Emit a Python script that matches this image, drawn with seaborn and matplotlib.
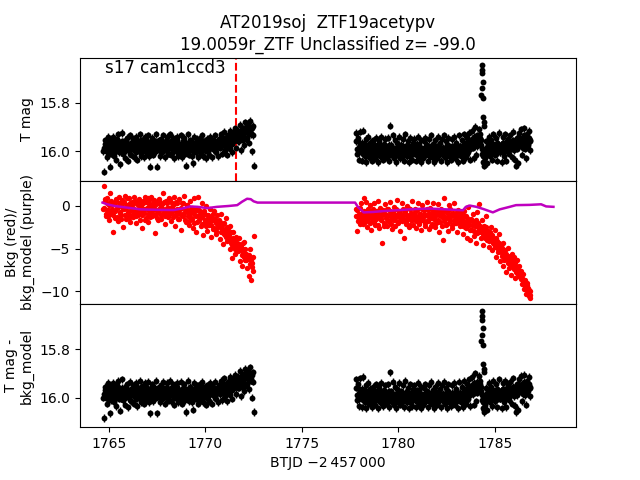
import numpy as np
import matplotlib
matplotlib.use("Agg")
import matplotlib.pyplot as plt
import seaborn as sns

# ---- light curve values (BTJD, mag, bkg) ----
# sector gap splits the orbit into two segments; each segment is stored as
# two interleaved cadence lists (a and b)
t_seg1 = [
    1764.70, 1764.75, 1764.80, 1764.85, 1764.90, 1764.95, 1765.00, 1765.05, 1765.10, 1765.15,
    1765.20, 1765.25, 1765.30, 1765.35, 1765.40, 1765.45, 1765.50, 1765.55, 1765.60, 1765.65,
    1765.70, 1765.75, 1765.80, 1765.85, 1765.90, 1765.95, 1766.00, 1766.05, 1766.10, 1766.15,
    1766.20, 1766.25, 1766.30, 1766.35, 1766.40, 1766.45, 1766.50, 1766.55, 1766.60, 1766.65,
    1766.70, 1766.75, 1766.80, 1766.85, 1766.90, 1766.95, 1767.00, 1767.05, 1767.10, 1767.15,
    1767.20, 1767.25, 1767.30, 1767.35, 1767.40, 1767.45, 1767.50, 1767.55, 1767.60, 1767.65,
    1767.70, 1767.75, 1767.80, 1767.85, 1767.90, 1767.95, 1768.00, 1768.05, 1768.10, 1768.15,
    1768.20, 1768.25, 1768.30, 1768.35, 1768.40, 1768.45, 1768.50, 1768.55, 1768.60, 1768.65,
    1768.70, 1768.75, 1768.80, 1768.85, 1768.90, 1768.95, 1769.00, 1769.05, 1769.10, 1769.15,
    1769.20, 1769.25, 1769.30, 1769.35, 1769.40, 1769.45, 1769.50, 1769.55, 1769.60, 1769.65,
    1769.70, 1769.75, 1769.80, 1769.85, 1769.90, 1769.95, 1770.00, 1770.05, 1770.10, 1770.15,
    1770.20, 1770.25, 1770.30, 1770.35, 1770.40, 1770.45, 1770.50, 1770.55, 1770.60, 1770.65,
    1770.70, 1770.75, 1770.80, 1770.85, 1770.90, 1770.95, 1771.00, 1771.05, 1771.10, 1771.15,
    1771.20, 1771.25, 1771.30, 1771.35, 1771.40, 1771.45, 1771.50, 1771.55, 1771.60, 1771.65,
    1771.70, 1771.75, 1771.80, 1771.85, 1771.90, 1771.95, 1772.00, 1772.05, 1772.10, 1772.15,
    1772.20, 1772.25, 1772.30, 1772.35, 1772.40, 1772.45, 1772.50,
]
tmag_seg1 = [
    16.000, 16.085, 15.955, 15.990, 16.025, 15.940, 15.975, 16.065, 16.010, 15.950,
    15.940, 16.020, 15.985, 16.035, 15.950, 15.930, 16.005, 16.055, 15.965, 15.990,
    15.925, 16.010, 15.960, 16.030, 15.975, 15.945, 16.040, 15.990, 15.935, 16.015,
    15.970, 15.950, 16.025, 15.985, 15.940, 16.035, 15.960, 16.000, 15.930, 16.020,
    15.955, 15.990, 16.025, 15.940, 15.975, 16.010, 15.935, 15.965, 16.020, 16.065,
    15.980, 15.945, 16.015, 15.960, 15.995, 15.930, 16.065, 15.970, 15.985, 16.020,
    15.950, 16.005, 15.935, 15.990, 16.025, 15.960, 15.940, 16.010, 15.975, 15.930,
    16.015, 15.965, 15.945, 16.030, 15.985, 15.950, 16.000, 15.940, 16.020, 15.970,
    15.990, 15.935, 16.025, 15.960, 15.945, 16.010, 16.060, 15.975, 15.930, 16.015,
    15.955, 15.985, 16.020, 16.050, 15.940, 15.970, 16.005, 15.950, 16.025, 15.965,
    15.945, 16.010, 15.980, 15.935, 16.020, 15.960, 15.995, 16.030, 15.950, 15.975,
    16.015, 15.940, 15.970, 16.025, 15.955, 15.990, 15.935, 16.005, 15.965, 16.020,
    15.950, 15.985, 15.930, 16.010, 15.960, 15.920, 15.995, 15.945, 16.015, 15.935,
    15.970, 15.915, 15.990, 15.940, 16.005, 15.925, 15.960, 15.905, 15.985, 15.935,
    15.915, 15.960, 15.890, 15.995, 15.935, 15.905, 15.975, 15.880, 15.950, 15.920,
    15.885, 15.965, 15.875, 15.930, 16.000, 15.895, 16.060,
]
bkg_seg1 = [
    -0.3, 2.3, 0.6, -1.2, 0.9, -0.5, -1.6, 1.5, 0.2, -0.9,
    -3.1, 0.4, -1.4, 0.8, -0.2, -1.8, 1.0, -0.7, 0.3, -1.1,
    0.7, -2.5, -0.4, 1.2, -1.5, 0.1, -0.9, 0.9, -1.9, -0.1,
    0.5, -1.3, 1.1, -0.6, -2.0, 0.3, -1.0, 0.8, -1.6, 0.0,
    -2.6, 0.6, -0.8, 1.0, -1.4, -0.3, 0.9, -1.9, 0.2, -0.7,
    1.1, -1.2, -0.1, 0.7, -3.2, -0.9, 0.4, -1.7, 0.8, -0.4,
    -1.5, 0.2, 1.5, -0.8, -2.1, 0.6, -0.2, -1.3, 0.9, -0.6,
    -1.8, 0.3, -0.5, 1.0, -1.1, -2.3, 0.5, -0.3, -1.5, 0.8,
    -0.9, -2.8, 0.4, -1.2, 1.2, -0.4, -1.9, 0.1, -0.7, -2.2,
    0.6, -1.4, -0.2, -2.6, 0.9, -1.0, -3.0, -0.5, 1.1, -1.7,
    -0.6, -2.4, 0.3, -1.3, -3.4, -0.8, -1.9, 0.0, -2.9, -1.1,
    -2.2, -0.3, -3.6, -1.4, -2.7, -0.6, -1.8, -3.3, -1.0, -2.5,
    -1.6, -3.9, -0.9, -2.8, -4.5, -2.0, -3.4, -1.4, -4.1, -2.6,
    -3.7, -5.0, -2.3, -4.4, -6.1, -3.1, -4.8, -5.6, -3.9, -4.6,
    -5.3, -3.8, -6.5, -4.6, -7.1, -5.0, -4.2, -6.3, -5.6, -7.3,
    -6.0, -8.2, -5.1, -8.7, -6.7, -7.6, -3.5,
]

t_seg1b = [
    1764.725, 1764.775, 1764.825, 1764.875, 1764.925, 1764.975, 1765.025, 1765.075, 1765.125, 1765.175,
    1765.225, 1765.275, 1765.325, 1765.375, 1765.425, 1765.475, 1765.525, 1765.575, 1765.625, 1765.675,
    1765.725, 1765.775, 1765.825, 1765.875, 1765.925, 1765.975, 1766.025, 1766.075, 1766.125, 1766.175,
    1766.225, 1766.275, 1766.325, 1766.375, 1766.425, 1766.475, 1766.525, 1766.575, 1766.625, 1766.675,
    1766.725, 1766.775, 1766.825, 1766.875, 1766.925, 1766.975, 1767.025, 1767.075, 1767.125, 1767.175,
    1767.225, 1767.275, 1767.325, 1767.375, 1767.425, 1767.475, 1767.525, 1767.575, 1767.625, 1767.675,
    1767.725, 1767.775, 1767.825, 1767.875, 1767.925, 1767.975, 1768.025, 1768.075, 1768.125, 1768.175,
    1768.225, 1768.275, 1768.325, 1768.375, 1768.425, 1768.475, 1768.525, 1768.575, 1768.625, 1768.675,
    1768.725, 1768.775, 1768.825, 1768.875, 1768.925, 1768.975, 1769.025, 1769.075, 1769.125, 1769.175,
    1769.225, 1769.275, 1769.325, 1769.375, 1769.425, 1769.475, 1769.525, 1769.575, 1769.625, 1769.675,
    1769.725, 1769.775, 1769.825, 1769.875, 1769.925, 1769.975, 1770.025, 1770.075, 1770.125, 1770.175,
    1770.225, 1770.275, 1770.325, 1770.375, 1770.425, 1770.475, 1770.525, 1770.575, 1770.625, 1770.675,
    1770.725, 1770.775, 1770.825, 1770.875, 1770.925, 1770.975, 1771.025, 1771.075, 1771.125, 1771.175,
    1771.225, 1771.275, 1771.325, 1771.375, 1771.425, 1771.475, 1771.525, 1771.575, 1771.625, 1771.675,
    1771.725, 1771.775, 1771.825, 1771.875, 1771.925, 1771.975, 1772.025, 1772.075, 1772.125, 1772.175,
    1772.225, 1772.275, 1772.325, 1772.375, 1772.425, 1772.475,
]
tmag_seg1b = [
    15.985, 15.970, 16.000, 15.965, 15.990, 15.975, 16.010, 15.960, 15.980, 15.995,
    15.970, 15.985, 15.955, 16.000, 15.975, 15.990, 15.965, 15.980, 16.005, 15.960,
    15.990, 15.975, 16.000, 15.960, 15.985, 15.970, 15.995, 16.010, 15.965, 15.980,
    15.960, 15.995, 15.975, 15.985, 16.005, 15.965, 15.990, 15.970, 15.980, 15.955,
    15.975, 16.000, 15.965, 15.985, 15.955, 15.990, 15.980, 16.005, 15.970, 15.960,
    15.995, 15.970, 15.985, 15.960, 16.000, 15.975, 15.990, 15.955, 15.980, 16.005,
    15.970, 15.985, 16.000, 15.965, 15.980, 15.995, 15.960, 15.975, 16.010, 15.985,
    15.960, 15.990, 15.975, 16.000, 15.965, 15.980, 15.955, 15.995, 15.970, 15.985,
    16.005, 15.970, 15.985, 15.960, 15.995, 15.975, 15.990, 15.965, 16.000, 15.980,
    15.975, 15.960, 15.990, 15.980, 16.005, 15.965, 15.985, 15.970, 15.995, 15.955,
    15.985, 15.970, 16.000, 15.960, 15.975, 15.995, 15.965, 15.980, 16.005, 15.990,
    15.965, 15.980, 15.955, 15.990, 15.975, 16.000, 15.970, 15.985, 15.960, 15.975,
    15.970, 15.955, 15.980, 15.960, 15.945, 15.975, 15.950, 15.985, 15.940, 15.965,
    15.945, 15.960, 15.935, 15.970, 15.950, 15.925, 15.955, 15.940, 15.930, 15.960,
    15.935, 15.915, 15.945, 15.925, 15.955, 15.910, 15.940, 15.920, 15.900, 15.945,
    15.910, 15.930, 15.900, 15.925, 15.905, 15.935,
]
bkg_seg1b = [
    -0.2, 0.8, -0.9, 0.3, -0.5, -1.2, 0.1, -0.7, 0.6, -0.3,
    -1.0, 0.2, -0.6, 0.7, -1.3, -0.1, 0.4, -0.8, -1.5, 0.0,
    -0.4, 0.5, -1.1, -0.2, 0.9, -0.7, -1.4, 0.3, -0.5, -1.0,
    0.2, -0.8, -0.3, 0.6, -1.2, -0.5, 0.1, -0.9, 0.4, -0.6,
    -1.1, 0.3, -0.4, -1.6, 0.5, -0.2, -0.9, 0.7, -1.3, -0.1,
    -0.6, 0.4, -1.0, -0.3, 0.2, -1.4, -0.7, 0.6, -0.2, -1.1,
    0.1, -0.9, -0.4, 0.5, -1.2, -0.6, 0.3, -1.0, -0.2, 0.7,
    -0.8, -0.1, -1.3, 0.2, -0.5, -1.0, 0.4, -0.7, -1.5, -0.3,
    -0.2, -1.1, 0.3, -0.8, -1.6, -0.4, 0.1, -1.2, -0.6, -1.8,
    -0.9, -0.3, -1.5, -0.7, -2.0, -0.5, -1.2, -1.9, -0.4, -1.0,
    -1.4, -0.8, -2.1, -1.1, -0.6, -1.7, -2.4, -1.0, -1.5, -2.0,
    -1.3, -2.2, -1.7, -0.9, -2.6, -1.5, -2.0, -2.9, -1.8, -2.3,
    -2.4, -1.9, -3.0, -2.6, -2.1, -3.3, -2.8, -3.6, -2.5, -3.1,
    -3.4, -4.0, -3.1, -4.6, -3.8, -4.2, -5.1, -3.6, -4.4, -4.9,
    -4.5, -5.2, -4.8, -5.7, -4.3, -5.5, -6.0, -5.1, -6.4, -5.8,
    -6.2, -5.7, -6.8, -6.4, -7.2, -6.0,
]

t_seg2 = [
    1777.80, 1777.85, 1777.90, 1777.95, 1778.00, 1778.05, 1778.10, 1778.15, 1778.20, 1778.25,
    1778.30, 1778.35, 1778.40, 1778.45, 1778.50, 1778.55, 1778.60, 1778.65, 1778.70, 1778.75,
    1778.80, 1778.85, 1778.90, 1778.95, 1779.00, 1779.05, 1779.10, 1779.15, 1779.20, 1779.25,
    1779.30, 1779.35, 1779.40, 1779.45, 1779.50, 1779.55, 1779.60, 1779.65, 1779.70, 1779.75,
    1779.80, 1779.85, 1779.90, 1779.95, 1780.00, 1780.05, 1780.10, 1780.15, 1780.20, 1780.25,
    1780.30, 1780.35, 1780.40, 1780.45, 1780.50, 1780.55, 1780.60, 1780.65, 1780.70, 1780.75,
    1780.80, 1780.85, 1780.90, 1780.95, 1781.00, 1781.05, 1781.10, 1781.15, 1781.20, 1781.25,
    1781.30, 1781.35, 1781.40, 1781.45, 1781.50, 1781.55, 1781.60, 1781.65, 1781.70, 1781.75,
    1781.80, 1781.85, 1781.90, 1781.95, 1782.00, 1782.05, 1782.10, 1782.15, 1782.20, 1782.25,
    1782.30, 1782.35, 1782.40, 1782.45, 1782.50, 1782.55, 1782.60, 1782.65, 1782.70, 1782.75,
    1782.80, 1782.85, 1782.90, 1782.95, 1783.00, 1783.05, 1783.10, 1783.15, 1783.20, 1783.25,
    1783.30, 1783.35, 1783.40, 1783.45, 1783.50, 1783.55, 1783.60, 1783.65, 1783.70, 1783.75,
    1783.80, 1783.85, 1783.90, 1783.95, 1784.00, 1784.05, 1784.10, 1784.15, 1784.20, 1784.25,
    1784.30, 1784.35, 1784.40, 1784.45, 1784.50, 1784.55, 1784.60, 1784.65, 1784.70, 1784.75,
    1784.80, 1784.85, 1784.90, 1784.95, 1785.00, 1785.05, 1785.10, 1785.15, 1785.20, 1785.25,
    1785.30, 1785.35, 1785.40, 1785.45, 1785.50, 1785.55, 1785.60, 1785.65, 1785.70, 1785.75,
    1785.80, 1785.85, 1785.90, 1785.95, 1786.00, 1786.05, 1786.10, 1786.15, 1786.20, 1786.25,
    1786.30, 1786.35, 1786.40, 1786.45, 1786.50, 1786.55, 1786.60, 1786.65, 1786.70, 1786.75,
    1786.80, 1786.85,
]
tmag_seg2 = [
    15.925, 16.010, 15.960, 16.035, 15.920, 15.985, 16.040, 15.915, 15.970, 16.020,
    15.950, 16.045, 15.990, 15.940, 16.025, 15.965, 16.005, 16.040, 15.955, 15.995,
    16.030, 15.945, 15.980, 16.045, 15.960, 16.015, 15.940, 16.000, 16.035, 15.970,
    15.950, 16.025, 15.985, 15.945, 16.040, 15.895, 15.975, 16.010, 15.935, 16.030,
    15.990, 15.955, 16.045, 15.965, 16.005, 15.940, 16.030, 15.975, 16.015, 15.950,
    16.040, 15.930, 15.995, 16.020, 15.960, 16.045, 15.945, 15.985, 16.035, 15.965,
    15.950, 16.010, 16.040, 15.970, 15.940, 16.025, 15.990, 16.045, 15.955, 16.000,
    16.030, 15.960, 15.945, 16.015, 15.980, 16.040, 15.950, 16.005, 15.935, 16.025,
    15.970, 16.045, 15.955, 15.995, 16.030, 15.940, 16.010, 15.965, 16.040, 15.950,
    15.985, 15.935, 16.025, 15.960, 16.045, 15.975, 15.945, 16.020, 15.990, 16.035,
    15.950, 16.010, 15.940, 16.030, 15.965, 15.995, 16.045, 15.935, 15.980, 16.020,
    15.955, 16.040, 15.930, 15.990, 16.025, 15.945, 16.005, 15.925, 16.035, 15.960,
    15.915, 15.985, 16.030, 15.900, 15.950, 16.015, 15.935, 15.970, 15.910, 15.945,
    15.975, 16.010, 16.045, 16.060, 16.030, 15.960, 16.050, 15.985, 15.940, 16.020,
    15.955, 16.035, 15.930, 15.995, 16.015, 15.945, 16.040, 15.970, 15.925, 16.005,
    15.985, 16.045, 15.940, 15.965, 16.020, 15.930, 16.040, 15.975, 15.950, 16.010,
    15.935, 15.990, 16.025, 15.920, 15.960, 16.035, 16.060, 15.945, 16.050, 15.925,
    15.975, 15.910, 16.015, 15.950, 15.905, 15.990, 16.030, 15.930, 15.965, 15.915,
    15.955, 15.995,
]
bkg_seg2 = [
    -0.4, -2.9, -1.3, -0.2, -2.1, 0.3, -1.6, -0.7, 0.9, -1.9,
    -1.0, 0.5, -2.5, -0.5, -1.4, 0.1, -2.8, -0.9, -1.7, 0.4,
    -2.2, -0.6, -1.2, 0.6, -2.6, -0.3, -1.5, -4.3, -0.8, -2.0,
    0.2, -1.1, -2.4, -0.4, -1.8, 0.5, -1.3, -2.7, -0.7, -1.6,
    -0.1, -2.3, -1.0, 0.7, -1.9, -0.6, -2.9, -1.2, 0.3, -1.5,
    -3.7, -0.8, -2.1, 0.0, -1.4, -2.5, -0.3, -1.7, 0.6, -2.2,
    -1.1, -0.4, -2.6, -1.5, 0.4, -2.0, -0.9, -1.3, -2.8, 0.1,
    -1.6, -0.5, -2.3, -1.0, 0.5, -1.8, -2.7, -0.2, -1.4, -2.1,
    0.3, -1.2, -2.5, -0.7, -1.9, 0.2, -3.0, -1.1, -0.4, -2.4,
    -4.0, 0.9, -1.5, -2.2, -0.6, -1.3, -2.9, 0.1, -1.8, -0.9,
    -2.6, -1.0, 0.4, -2.0, -1.4, -3.1, -0.5, -1.7, -2.4, -0.8,
    -1.9, -3.3, -0.6, -2.5, -1.2, -3.8, -0.1, -2.2, -4.0, -1.5,
    -2.8, -0.9, -3.5, -1.8, -4.3, -2.3, -0.7, -3.0, 0.2, -2.6,
    -3.7, -1.6, -4.6, -2.4, -3.1, -1.2, -4.0, -2.9, -4.8, -3.4,
    -2.5, -5.2, -3.8, -4.5, -2.8, -6.0, -4.1, -5.4, -3.3, -6.5,
    -4.7, -5.9, -7.0, -4.4, -6.4, -5.2, -7.8, -6.1, -4.9, -7.3,
    -6.6, -8.1, -5.6, -7.2, -6.0, -8.5, -7.5, -6.4, -8.0, -7.0,
    -8.3, -7.6, -9.2, -8.0, -9.8, -8.7, -10.3, -9.1, -9.6, -10.6,
    -10.0, -10.85,
]

t_seg2b = [
    1777.825, 1777.875, 1777.925, 1777.975, 1778.025, 1778.075, 1778.125, 1778.175, 1778.225, 1778.275,
    1778.325, 1778.375, 1778.425, 1778.475, 1778.525, 1778.575, 1778.625, 1778.675, 1778.725, 1778.775,
    1778.825, 1778.875, 1778.925, 1778.975, 1779.025, 1779.075, 1779.125, 1779.175, 1779.225, 1779.275,
    1779.325, 1779.375, 1779.425, 1779.475, 1779.525, 1779.575, 1779.625, 1779.675, 1779.725, 1779.775,
    1779.825, 1779.875, 1779.925, 1779.975, 1780.025, 1780.075, 1780.125, 1780.175, 1780.225, 1780.275,
    1780.325, 1780.375, 1780.425, 1780.475, 1780.525, 1780.575, 1780.625, 1780.675, 1780.725, 1780.775,
    1780.825, 1780.875, 1780.925, 1780.975, 1781.025, 1781.075, 1781.125, 1781.175, 1781.225, 1781.275,
    1781.325, 1781.375, 1781.425, 1781.475, 1781.525, 1781.575, 1781.625, 1781.675, 1781.725, 1781.775,
    1781.825, 1781.875, 1781.925, 1781.975, 1782.025, 1782.075, 1782.125, 1782.175, 1782.225, 1782.275,
    1782.325, 1782.375, 1782.425, 1782.475, 1782.525, 1782.575, 1782.625, 1782.675, 1782.725, 1782.775,
    1782.825, 1782.875, 1782.925, 1782.975, 1783.025, 1783.075, 1783.125, 1783.175, 1783.225, 1783.275,
    1783.325, 1783.375, 1783.425, 1783.475, 1783.525, 1783.575, 1783.625, 1783.675, 1783.725, 1783.775,
    1783.825, 1783.875, 1783.925, 1783.975, 1784.025, 1784.075, 1784.125, 1784.175, 1784.225, 1784.275,
    1784.325, 1784.375, 1784.425, 1784.475, 1784.525, 1784.575, 1784.625, 1784.675, 1784.725, 1784.775,
    1784.825, 1784.875, 1784.925, 1784.975, 1785.025, 1785.075, 1785.125, 1785.175, 1785.225, 1785.275,
    1785.325, 1785.375, 1785.425, 1785.475, 1785.525, 1785.575, 1785.625, 1785.675, 1785.725, 1785.775,
    1785.825, 1785.875, 1785.925, 1785.975, 1786.025, 1786.075, 1786.125, 1786.175, 1786.225, 1786.275,
    1786.325, 1786.375, 1786.425, 1786.475, 1786.525, 1786.575, 1786.625, 1786.675, 1786.725, 1786.775,
    1786.825,
]
tmag_seg2b = [
    15.960, 15.990, 15.945, 16.005, 15.975, 15.995, 15.965, 16.010, 15.985, 15.970,
    16.000, 15.980, 16.015, 15.990, 15.970, 16.005, 15.985, 16.020, 15.995, 15.975,
    16.010, 15.985, 16.000, 15.970, 16.020, 15.990, 16.005, 15.980, 16.015, 15.995,
    15.980, 16.005, 15.990, 16.020, 15.975, 16.000, 16.015, 15.985, 16.010, 15.995,
    16.005, 15.985, 16.015, 15.995, 15.975, 16.010, 15.990, 16.020, 15.980, 16.000,
    15.990, 16.015, 15.975, 16.005, 15.995, 15.980, 16.020, 16.000, 15.985, 16.010,
    16.000, 15.980, 16.010, 15.990, 16.020, 15.975, 16.005, 15.985, 16.015, 15.995,
    15.985, 16.010, 15.995, 15.975, 16.005, 15.990, 16.020, 15.980, 16.000, 16.015,
    16.005, 15.990, 16.015, 15.980, 15.995, 16.020, 15.975, 16.010, 15.985, 16.000,
    15.995, 16.020, 15.985, 16.005, 15.975, 16.010, 15.990, 16.000, 16.015, 15.980,
    16.010, 15.985, 16.000, 15.970, 16.015, 15.990, 16.005, 15.980, 15.995, 16.020,
    15.985, 16.005, 15.975, 15.995, 15.965, 16.010, 15.980, 15.960, 15.990, 15.970,
    15.950, 15.975, 15.940, 15.965, 15.955, 15.980, 15.945, 15.960, 15.930, 15.955,
    15.990, 16.020, 16.050, 16.005, 15.985, 16.015, 15.975, 16.000, 15.965, 15.990,
    15.985, 16.000, 15.970, 15.995, 15.980, 16.010, 15.965, 15.990, 15.975, 16.005,
    15.980, 15.995, 15.965, 16.005, 15.975, 15.990, 15.960, 16.000, 15.970, 15.985,
    15.965, 15.980, 15.955, 15.995, 15.970, 15.985, 15.950, 15.990, 15.960, 15.975,
    15.950, 15.970, 15.945, 15.985, 15.935, 15.965, 15.955, 15.940, 15.975, 15.945,
    15.960,
]
bkg_seg2b = [
    -1.2, -0.5, -1.8, -0.9, -0.2, -1.5, -1.0, -2.1, -0.6, -1.3,
    -0.8, -1.6, -0.3, -1.1, -2.0, -0.7, -1.4, -0.4, -1.9, -1.0,
    -1.5, -0.6, -2.2, -0.9, -1.3, -0.2, -1.7, -1.0, -0.5, -2.3,
    -0.9, -1.4, -0.3, -1.8, -1.1, -0.6, -2.1, -0.8, -1.5, -1.2,
    -1.6, -0.4, -1.2, -2.0, -0.7, -1.4, -0.9, -1.8, -0.3, -1.1,
    -0.6, -1.9, -1.0, -1.5, -0.2, -1.3, -2.2, -0.8, -1.6, -1.0,
    -1.4, -0.7, -1.8, -0.5, -1.2, -2.1, -0.9, -1.6, -0.3, -1.3,
    -0.9, -2.0, -1.1, -0.4, -1.7, -0.8, -1.3, -2.3, -1.0, -0.6,
    -1.5, -0.8, -1.2, -2.0, -0.5, -1.6, -1.0, -1.9, -0.7, -1.3,
    -1.1, -1.8, -0.6, -1.4, -2.1, -0.9, -1.5, -0.4, -1.2, -2.2,
    -0.8, -1.6, -1.1, -2.0, -0.7, -1.4, -1.9, -1.0, -1.7, -1.3,
    -1.5, -2.3, -1.2, -1.9, -2.6, -1.4, -2.1, -1.7, -2.8, -1.6,
    -2.2, -1.8, -2.9, -2.4, -1.6, -3.2, -2.0, -2.7, -2.3, -3.0,
    -2.6, -3.3, -2.9, -3.8, -2.5, -3.5, -3.1, -4.1, -3.6, -3.0,
    -3.9, -3.4, -4.4, -4.0, -4.8, -3.7, -4.6, -5.1, -4.3, -5.0,
    -5.4, -4.9, -5.8, -5.5, -6.2, -5.6, -6.0, -6.7, -6.3, -5.9,
    -6.8, -6.3, -7.0, -7.4, -6.7, -7.7, -7.2, -7.9, -7.5, -8.2,
    -8.0, -8.6, -8.4, -9.0, -8.8, -9.4, -9.7, -9.3, -10.1, -9.9,
    -10.4,
]

# flare near BTJD 1784.35
t_flare = [1784.30, 1784.32, 1784.34, 1784.35, 1784.36, 1784.37, 1784.38, 1784.40, 1784.42, 1784.44]
tmag_flare = [15.765, 15.740, 15.641, 15.663, 15.677, 15.712, 15.780, 15.860, 15.880, 15.895]

# background model (purple)
t_model = [1764.67, 1764.90, 1765.30, 1765.80, 1766.65, 1767.50, 1768.36, 1768.80, 1769.20,
           1769.60, 1770.10, 1770.60, 1771.20, 1771.65, 1771.90, 1772.16, 1772.35, 1772.50,
           1772.70, 1777.76, 1777.90, 1778.20, 1778.70, 1779.20, 1779.90, 1780.95, 1781.60,
           1782.50, 1783.35, 1783.50, 1783.70, 1784.05, 1784.40, 1784.90, 1785.25, 1785.77,
           1786.10, 1786.80, 1787.40, 1787.66, 1788.04]
bkg_model = [0.40, 0.20, 0.00, -0.15, -0.40, -0.45, -0.47, -0.30, -0.05,
             -0.10, -0.25, -0.10, 0.00, 0.10, 0.50, 0.85, 0.80, 0.55,
             0.40, 0.40, -0.10, -0.75, -0.70, -0.60, -0.50, -0.35, -0.30,
             -0.40, -0.50, -0.10, 0.05, -0.10, -0.35, -0.75, -0.40, -0.10,
             0.10, 0.13, 0.20, -0.05, -0.10]

tmag_err = 0.015
flare_err = 0.006
t_discovery = 1771.6

title = "AT2019soj  ZTF19acetypv\n19.0059r_ZTF Unclassified z= -99.0"
sector_label = "s17 cam1ccd3"


def plot_lightcurve():
    t = np.concatenate([t_seg1, t_seg1b, t_seg2, t_seg2b])
    tmag = np.concatenate([tmag_seg1, tmag_seg1b, tmag_seg2, tmag_seg2b])
    bkg = np.concatenate([bkg_seg1, bkg_seg1b, bkg_seg2, bkg_seg2b])
    t_all = np.concatenate([t, t_flare])
    tmag_all = np.concatenate([tmag, tmag_flare])
    err_all = np.concatenate([np.full(len(t), tmag_err), np.full(len(t_flare), flare_err)])
    # bottom panel (T mag - bkg_model) looks identical to the top one
    tsub_all = tmag_all

    fig, axes = plt.subplots(3, 1, sharex=True, figsize=(6.4, 4.8), dpi=100)
    fig.subplots_adjust(hspace=0)

    for ax, yvals in [(axes[0], tmag_all), (axes[2], tsub_all)]:
        ax.errorbar(t_all, yvals, yerr=err_all, fmt='none', ecolor='k', elinewidth=1)
        sns.scatterplot(x=t_all, y=yvals, ax=ax, color='k', s=18, linewidth=0, zorder=3)
        ax.invert_yaxis()

    axes[0].axvline(t_discovery, color='r', linestyle='--', linewidth=1.5)
    axes[0].text(0.05, 0.985, sector_label, transform=axes[0].transAxes,
                 ha='left', va='top', fontsize=12)
    axes[0].set_title(title, fontsize='large')
    axes[0].set_ylabel('T mag')

    sns.scatterplot(x=t, y=bkg, ax=axes[1], color='r', s=15, linewidth=0)
    sns.lineplot(x=t_model, y=bkg_model, ax=axes[1], color='m', linewidth=1.8,
                 sort=False, estimator=None, zorder=4)
    axes[1].set_ylabel('Bkg (red)/\nbkg_model (purple)')

    axes[2].set_ylabel('T mag -\nbkg_model')
    axes[2].set_xlabel('BTJD \u22122\u2009457\u2009000')

    for ax in axes[:2]:
        ax.tick_params(axis='x', bottom=False, labelbottom=False)

    fig.savefig('out.png', dpi=100)


if __name__ == "__main__":
    plot_lightcurve()
